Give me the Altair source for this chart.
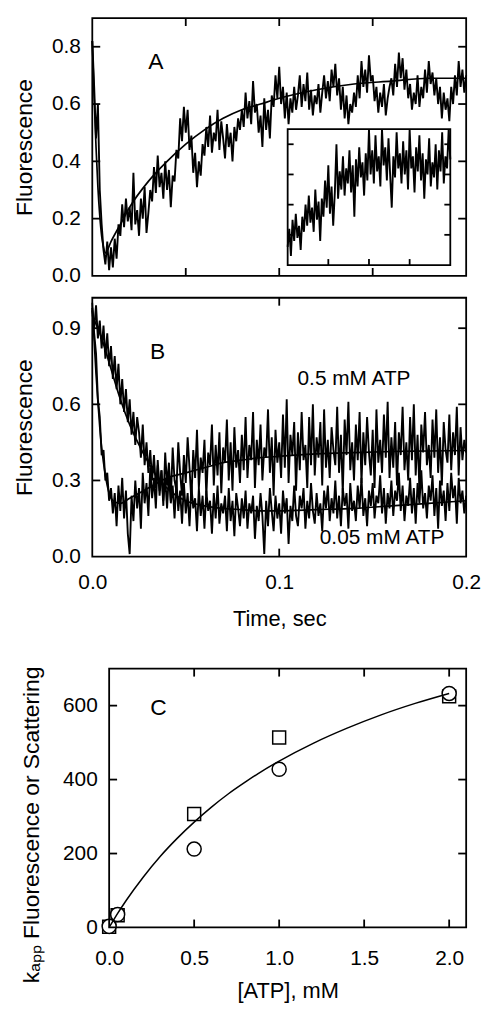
import altair as alt
import pandas as pd

FONT = "Liberation Sans"
BLACK = "#000000"

# ---------------- Panel A : fluorescence transient ----------------
A_STEP = 0.001  # sampling interval (s)
A_TRACE = [
    0.82, 0.66, 0.48, 0.60, 0.30, 0.18, 0.09, 0.04, 0.12, 0.02,
    0.10, 0.03, 0.13, 0.06, 0.18, 0.14, 0.25, 0.17, 0.27, 0.19,
    0.24, 0.16, 0.36, 0.18, 0.23, 0.14, 0.27, 0.20, 0.31, 0.15,
    0.22, 0.30, 0.26, 0.38, 0.29, 0.42, 0.31, 0.36, 0.27, 0.40,
    0.30, 0.37, 0.24, 0.35, 0.33, 0.44, 0.41, 0.55, 0.47, 0.59,
    0.50, 0.58, 0.44, 0.49, 0.36, 0.43, 0.31, 0.40, 0.35, 0.46,
    0.42, 0.52, 0.45, 0.56, 0.43, 0.50, 0.47, 0.58, 0.44, 0.54,
    0.48, 0.41, 0.53, 0.45, 0.50, 0.40, 0.52, 0.47, 0.55, 0.51,
    0.58, 0.52, 0.64, 0.55, 0.61, 0.53, 0.68, 0.57, 0.60, 0.50,
    0.56, 0.45, 0.62, 0.51, 0.58, 0.48, 0.63, 0.59, 0.70, 0.62,
    0.73, 0.60, 0.66, 0.55, 0.64, 0.53, 0.62, 0.57, 0.66, 0.58,
    0.63, 0.70, 0.59, 0.67, 0.61, 0.71, 0.58, 0.65, 0.56, 0.63,
    0.60, 0.67, 0.57, 0.64, 0.70, 0.62, 0.68, 0.61, 0.72, 0.66,
    0.74, 0.63, 0.69, 0.58, 0.66, 0.55, 0.63, 0.53, 0.60, 0.57,
    0.64, 0.59, 0.70, 0.62, 0.75, 0.66, 0.72, 0.64, 0.77, 0.68,
    0.70, 0.61, 0.66, 0.57, 0.64, 0.59, 0.67, 0.56, 0.62, 0.66,
    0.69, 0.63, 0.74, 0.66, 0.78, 0.69, 0.76, 0.65, 0.72, 0.62,
    0.67, 0.58, 0.64, 0.60, 0.70, 0.59, 0.66, 0.62, 0.72, 0.64,
    0.75, 0.67, 0.71, 0.63, 0.69, 0.60, 0.66, 0.55, 0.64, 0.58,
    0.62, 0.54, 0.66, 0.60, 0.70, 0.63, 0.75, 0.66, 0.72, 0.64,
    0.70,
]
A_FIT_T = [0, 0.001, 0.002, 0.003, 0.004, 0.005, 0.006, 0.007, 0.01, 0.015,
           0.02, 0.03, 0.04, 0.05, 0.06, 0.07, 0.08, 0.09, 0.10, 0.12,
           0.14, 0.16, 0.18, 0.20]
A_FIT = [0.82, 0.62, 0.45, 0.31, 0.21, 0.14, 0.10, 0.08, 0.12, 0.18,
         0.24, 0.33, 0.40, 0.46, 0.51, 0.55, 0.58, 0.60, 0.62, 0.65,
         0.67, 0.68, 0.69, 0.69]
A_XDOM, A_YDOM = [0, 0.2], [0, 0.9]
A_XTICKS = [0.05, 0.10, 0.15]
A_YTICKS = [0.2, 0.4, 0.6, 0.8]
A_YLABELS = [0.0, 0.2, 0.4, 0.6, 0.8]

# inset of panel A (unlabelled axes)
INSET_STEP = 0.04
INSET_TRACE = [
    0.6, 1.2, 0.3, 1.5, 0.8, 1.7, 0.9, 1.3, 0.5, 1.6,
    1.1, 2.0, 1.3, 2.3, 1.4, 1.9, 1.1, 2.5, 1.5, 2.1,
    0.8, 2.2, 1.6, 2.8, 1.9, 3.3, 1.7, 2.6, 1.3, 2.4,
    4.0, 2.2, 3.1, 2.5, 3.6, 2.3, 3.2, 2.7, 3.8, 2.4,
    3.3, 1.6, 3.5, 2.6, 3.9, 2.9, 3.4, 2.3, 3.7, 2.8,
    4.5, 3.0, 3.8, 2.7, 4.3, 3.1, 3.6, 2.6, 4.5, 3.3,
    3.9, 2.8, 4.2, 3.0, 1.9, 3.6, 2.9, 4.4, 3.2, 3.7,
    2.7, 4.1, 3.0, 3.8, 2.5, 4.5, 3.2, 3.6, 2.4, 3.9,
    3.1, 4.3, 2.8, 3.7, 2.2, 3.5, 3.0, 4.2, 2.6, 3.4,
    2.9, 4.0, 2.5, 3.8, 3.1, 4.4, 2.7, 3.6, 3.2, 4.5,
    3.5,
]
I_XDOM, I_YDOM = [0, 4], [0, 4.5]
INSET_XTICKS = [1, 2, 3]
INSET_YTICKS = [1, 2, 3, 4]

# ---------------- Panel B : two ATP concentrations ----------------
B_STEP = 0.001
B_TRACE_05 = [
    0.98, 0.88, 0.80, 0.62, 0.55, 0.40, 0.42, 0.30, 0.33, 0.22,
    0.27, 0.17, 0.25, 0.12, 0.28, 0.18, 0.31, 0.15, 0.26, 0.09,
    0.01, 0.24, 0.14, 0.30, 0.19, 0.27, 0.11, 0.33, 0.21, 0.29,
    0.16, 0.35, 0.23, 0.31, 0.19, 0.38, 0.26, 0.34, 0.20, 0.41,
    0.28, 0.37, 0.22, 0.43, 0.30, 0.26, 0.45, 0.33, 0.24, 0.40,
    0.29, 0.47, 0.35, 0.22, 0.42, 0.31, 0.50, 0.27, 0.39, 0.33,
    0.46, 0.24, 0.41, 0.36, 0.52, 0.28, 0.44, 0.32, 0.49, 0.25,
    0.43, 0.37, 0.54, 0.30, 0.45, 0.26, 0.51, 0.35, 0.42, 0.29,
    0.48, 0.34, 0.55, 0.31, 0.44, 0.38, 0.57, 0.27, 0.46, 0.36,
    0.52, 0.30, 0.43, 0.39, 0.58, 0.33, 0.47, 0.24, 0.50, 0.37,
    0.45, 0.31, 0.56, 0.35, 0.62, 0.29, 0.48, 0.40, 0.53, 0.26,
    0.49, 0.34, 0.57, 0.38, 0.44, 0.27, 0.55, 0.36, 0.60, 0.32,
    0.47, 0.39, 0.53, 0.28, 0.58, 0.35, 0.46, 0.31, 0.51, 0.42,
    0.36, 0.59, 0.33, 0.48, 0.25, 0.54, 0.40, 0.61, 0.34, 0.45,
    0.30, 0.52, 0.38, 0.57, 0.29, 0.49, 0.36, 0.55, 0.41, 0.32,
    0.50, 0.27, 0.58, 0.37, 0.46, 0.33, 0.56, 0.39, 0.61, 0.31,
    0.47, 0.35, 0.53, 0.28, 0.49, 0.40, 0.59, 0.34, 0.45, 0.30,
    0.55, 0.38, 0.60, 0.32, 0.48, 0.26, 0.52, 0.41, 0.57, 0.36,
    0.44, 0.31, 0.54, 0.39, 0.58, 0.33, 0.47, 0.28, 0.53, 0.42,
    0.37, 0.56, 0.34, 0.49, 0.40, 0.59, 0.32, 0.51, 0.38, 0.46,
    0.41,
]
B_TRACE_005 = [
    0.97, 0.90, 0.99, 0.86, 0.93, 0.82, 0.91, 0.78, 0.88, 0.75,
    0.83, 0.70, 0.79, 0.66, 0.76, 0.60, 0.70, 0.57, 0.66, 0.53,
    0.62, 0.48, 0.57, 0.44, 0.55, 0.49, 0.39, 0.52, 0.36, 0.45,
    0.33, 0.42, 0.30, 0.40, 0.27, 0.36, 0.24, 0.34, 0.22, 0.31,
    0.19, 0.33, 0.21, 0.28, 0.15, 0.30, 0.18, 0.26, 0.13, 0.29,
    0.17, 0.25, 0.12, 0.28, 0.19, 0.23, 0.10, 0.27, 0.16, 0.24,
    0.11, 0.26, 0.18, 0.22, 0.09, 0.25, 0.15, 0.28, 0.13, 0.21,
    0.17, 0.24, 0.10, 0.27, 0.14, 0.22, 0.08, 0.25, 0.19, 0.12,
    0.23, 0.15, 0.26, 0.11, 0.21, 0.17, 0.24, 0.07, 0.20, 0.14,
    0.25, 0.16, 0.01, 0.22, 0.12, 0.27, 0.18, 0.10, 0.24, 0.15,
    0.21, 0.09, 0.26, 0.17, 0.23, 0.05, 0.20, 0.14, 0.28, 0.16,
    0.12, 0.24, 0.19, 0.27, 0.11, 0.22, 0.15, 0.29, 0.18, 0.13,
    0.25, 0.16, 0.21, 0.10, 0.26, 0.19, 0.28, 0.14, 0.23, 0.17,
    0.30, 0.15, 0.24, 0.12, 0.27, 0.20, 0.25, 0.11, 0.29, 0.18,
    0.22, 0.14, 0.28, 0.19, 0.31, 0.16, 0.23, 0.12, 0.26, 0.20,
    0.29, 0.15, 0.24, 0.21, 0.32, 0.17, 0.27, 0.13, 0.25, 0.19,
    0.30, 0.16, 0.26, 0.22, 0.33, 0.18, 0.28, 0.14, 0.24, 0.20,
    0.31, 0.17, 0.27, 0.13, 0.29, 0.21, 0.34, 0.19, 0.25, 0.15,
    0.28, 0.22, 0.32, 0.16, 0.27, 0.11, 0.30, 0.20, 0.26, 0.14,
    0.29, 0.18, 0.33, 0.23, 0.28, 0.13, 0.31, 0.21, 0.26, 0.17,
    0.24,
]
B_FIT_05_T = [0, 0.001, 0.002, 0.003, 0.004, 0.005, 0.006, 0.007, 0.008, 0.009,
              0.010, 0.012, 0.015, 0.02, 0.03, 0.04, 0.05, 0.06, 0.07, 0.08,
              0.09, 0.10, 0.12, 0.14, 0.16, 0.18, 0.20]
B_FIT_05 = [1.00, 0.85, 0.72, 0.61, 0.51, 0.43, 0.37, 0.32, 0.28, 0.25,
            0.23, 0.215, 0.21, 0.23, 0.27, 0.31, 0.33, 0.35, 0.37, 0.38,
            0.39, 0.395, 0.405, 0.41, 0.414, 0.416, 0.418]
B_FIT_005_T = [0, 0.005, 0.01, 0.015, 0.02, 0.025, 0.03, 0.035, 0.04, 0.045,
               0.05, 0.06, 0.07, 0.08, 0.09, 0.10, 0.12, 0.14, 0.16, 0.18, 0.20]
B_FIT_005 = [0.95, 0.86, 0.74, 0.62, 0.52, 0.44, 0.37, 0.31, 0.27, 0.24,
             0.22, 0.20, 0.19, 0.185, 0.18, 0.18, 0.185, 0.19, 0.20, 0.21, 0.22]
B_XDOM, B_YDOM = [0, 0.2], [0, 1.02]
B_XTICKS = [0.1]
B_YTICKS = [0.3, 0.6, 0.9]
B_XLABELS = [0.0, 0.1, 0.2]
B_YLABELS = [0.0, 0.3, 0.6, 0.9]

# ---------------- Panel C : kapp vs [ATP] ----------------
C_ATP = [0.0, 0.05, 0.5, 1.0, 2.0]
C_FLUOR = [3, 35, 212, 428, 633]       # circles
C_SCATTER = [2, 33, 307, 514, 625]     # squares
C_FIT_X = [0, 0.05, 0.1, 0.2, 0.3, 0.4, 0.5, 0.6, 0.7, 0.8, 0.9, 1.0,
           1.2, 1.4, 1.6, 1.8, 2.0]
C_FIT = [0, 38, 73, 136, 192, 241, 285, 325, 361, 393, 423, 450,
         498, 539, 575, 606, 633]
C_XDOM, C_YDOM = [0, 2.1], [0, 700]
C_XTICKS = [0.5, 1.0, 1.5, 2.0]
C_YTICKS = [200, 400, 600]
C_XLABELS = [0.0, 0.5, 1.0, 1.5, 2.0]
C_YLABELS = [0, 200, 400, 600]

# ---------------- layout (pixels inside the single view) ----------------
VIEW_W = 377
A_BOX = (0, 377, 0, 260)        # left, right, top, bottom
INSET_BOX = (197, 361, 112, 249)
B_BOX = (0, 377, 282, 543)
C_BOX = (17, 377, 656, 917)
VIEW_H = C_BOX[3]
TICK = 8
LABEL_SIZE = 21
TITLE_SIZE = 23
XTITLE_SIZE = 22
LETTER_SIZE = 23
TRACE_W = 1.9
FIT_W = 1.7
FRAME_W = 1.8


def scales(box, xdom, ydom):
    l, r, t, b = box
    return (alt.Scale(domain=xdom, range=[l, r], nice=False, zero=False),
            alt.Scale(domain=ydom, range=[b, t], nice=False, zero=False))


def axis(values, fmt, title, label_pad, title_pad, orient,
         title_size=TITLE_SIZE, **extra):
    return alt.Axis(values=values, format=fmt, title=title, orient=orient,
                    ticks=False, domain=False, grid=False,
                    labelPadding=label_pad, titlePadding=title_pad,
                    labelFontSize=LABEL_SIZE, titleFontSize=title_size,
                    labelFlush=False, labelOverlap=False, labelFont=FONT,
                    titleFont=FONT, labelColor=BLACK, titleColor=BLACK,
                    titleFontWeight="normal", **extra)


def frame(box, xdom, ydom, xs, ys, xa, ya, xticks, yticks, fill=None,
          tick=TICK):
    """Panel border plus inward ticks on all four sides."""
    l, r, t, b = box
    tx = tick * (xdom[1] - xdom[0]) / (r - l)
    ty = tick * (ydom[1] - ydom[0]) / (b - t)
    X = lambda f: alt.X(f, scale=xs, axis=xa)
    Y = lambda f: alt.Y(f, scale=ys, axis=ya)
    rect_df = pd.DataFrame({"x0": [xdom[0]], "x1": [xdom[1]],
                            "y0": [ydom[0]], "y1": [ydom[1]]})
    if fill:
        rect = alt.Chart(rect_df).mark_rect(fill=fill, stroke=BLACK,
                                            strokeWidth=FRAME_W)
    else:
        rect = alt.Chart(rect_df).mark_rect(fillOpacity=0, stroke=BLACK,
                                            strokeWidth=FRAME_W)
    rect = rect.encode(x=X("x0:Q"), x2="x1:Q", y=Y("y0:Q"), y2="y1:Q")
    layers = [rect]
    for a, bb in ((ydom[0], ydom[0] + ty), (ydom[1] - ty, ydom[1])):
        df = pd.DataFrame({"v": xticks, "a": a, "b": bb})
        layers.append(alt.Chart(df).mark_rule(color=BLACK, strokeWidth=FRAME_W)
                      .encode(x=X("v:Q"), y=Y("a:Q"), y2="b:Q"))
    for a, bb in ((xdom[0], xdom[0] + tx), (xdom[1] - tx, xdom[1])):
        df = pd.DataFrame({"v": yticks, "a": a, "b": bb})
        layers.append(alt.Chart(df).mark_rule(color=BLACK, strokeWidth=FRAME_W)
                      .encode(y=Y("v:Q"), x=X("a:Q"), x2="b:Q"))
    return layers


def label(text, x, y, xs, ys, xa, ya, size=LETTER_SIZE):
    df = pd.DataFrame({"x": [x], "y": [y], "t": [text]})
    return alt.Chart(df).mark_text(font=FONT, fontSize=size, color=BLACK,
                                   align="center", baseline="middle").encode(
        x=alt.X("x:Q", scale=xs, axis=xa),
        y=alt.Y("y:Q", scale=ys, axis=ya),
        text="t:N")


def line(df, xs, ys, xa, ya, width, smooth=False, detail=None):
    m = alt.Chart(df).mark_line(color=BLACK, strokeWidth=width,
                                strokeJoin="miter", strokeMiterLimit=2,
                                interpolate="monotone" if smooth else "linear")
    enc = dict(x=alt.X("x:Q", scale=xs, axis=xa),
               y=alt.Y("y:Q", scale=ys, axis=ya))
    if detail:
        enc["detail"] = detail
    return m.encode(**enc)


# ---------- Panel A ----------
AX, AY = scales(A_BOX, A_XDOM, A_YDOM)
AXA = None
AYA = axis(A_YLABELS, ".1f", "Fluorescence", 12, 15, "left")
a_df = pd.DataFrame({"x": [round(i * A_STEP, 4) for i in range(len(A_TRACE))],
                     "y": A_TRACE})
a_fit = pd.DataFrame({"x": A_FIT_T, "y": A_FIT})
panel_a = alt.layer(
    line(a_df, AX, AY, AXA, AYA, TRACE_W),
    line(a_fit, AX, AY, AXA, AYA, FIT_W, smooth=True),
    *frame(A_BOX, A_XDOM, A_YDOM, AX, AY, AXA, AYA, A_XTICKS, A_YTICKS),
    label("A", 0.034, 0.746, AX, AY, AXA, AYA),
)

# ---------- inset ----------
IX, IY = scales(INSET_BOX, I_XDOM, I_YDOM)
ins_df = pd.DataFrame({"x": [round(i * INSET_STEP, 3) for i in range(len(INSET_TRACE))],
                       "y": INSET_TRACE})
inset_frame = frame(INSET_BOX, I_XDOM, I_YDOM, IX, IY, None, None,
                    INSET_XTICKS, INSET_YTICKS, fill="white", tick=6)
# the inset has ticks on its left, right and bottom sides only
panel_inset = alt.layer(
    inset_frame[0],
    line(ins_df, IX, IY, None, None, TRACE_W),
    inset_frame[1], inset_frame[3], inset_frame[4],
)

# ---------- Panel B ----------
BX, BY = scales(B_BOX, B_XDOM, B_YDOM)
BXA = axis(B_XLABELS, ".1f", "Time, sec", 15, 16, "bottom",
           title_size=XTITLE_SIZE, offset=B_BOX[3] - VIEW_H)
BYA = axis(B_YLABELS, ".1f", "Fluorescence", 12, 15, "left")
b_df = pd.DataFrame({
    "x": [round(i * B_STEP, 4) for i in range(len(B_TRACE_05))] * 2,
    "y": B_TRACE_05 + B_TRACE_005,
    "s": ["0.5 mM ATP"] * len(B_TRACE_05) + ["0.05 mM ATP"] * len(B_TRACE_005),
})
b_fit = pd.DataFrame({
    "x": B_FIT_05_T + B_FIT_005_T,
    "y": B_FIT_05 + B_FIT_005,
    "s": ["0.5 mM ATP"] * len(B_FIT_05) + ["0.05 mM ATP"] * len(B_FIT_005),
})
panel_b = alt.layer(
    line(b_df, BX, BY, BXA, BYA, TRACE_W, detail="s:N"),
    line(b_fit, BX, BY, BXA, BYA, FIT_W, smooth=True, detail="s:N"),
    *frame(B_BOX, B_XDOM, B_YDOM, BX, BY, BXA, BYA, B_XTICKS, B_YTICKS),
    label("B", 0.035, 0.805, BX, BY, BXA, BYA),
    label("0.5 mM ATP", 0.140, 0.70, BX, BY, BXA, BYA, size=21),
    label("0.05 mM ATP", 0.155, 0.074, BX, BY, BXA, BYA, size=21),
)

# ---------- Panel C ----------
CX, CY = scales(C_BOX, C_XDOM, C_YDOM)
CXA = axis(C_XLABELS, ".1f", "[ATP], mM", 20, 13, "bottom",
           title_size=XTITLE_SIZE)
CYA = axis(C_YLABELS, "d", "kₐₚₚ Fluorescence or Scattering", 12, 19, "left",
           offset=-C_BOX[0], titleY=813)
c_sq = pd.DataFrame({"x": C_ATP, "y": C_SCATTER})
c_ci = pd.DataFrame({"x": C_ATP, "y": C_FLUOR})
c_fit = pd.DataFrame({"x": C_FIT_X, "y": C_FIT})
c_squares = alt.Chart(c_sq).mark_point(shape="square", size=170, filled=True,
                                       fill="white", stroke=BLACK,
                                       strokeWidth=1.5, opacity=1).encode(
    x=alt.X("x:Q", scale=CX, axis=CXA), y=alt.Y("y:Q", scale=CY, axis=CYA))
c_circles = alt.Chart(c_ci).mark_point(shape="circle", size=200, filled=True,
                                       fill="white", stroke=BLACK,
                                       strokeWidth=1.5, opacity=1).encode(
    x=alt.X("x:Q", scale=CX, axis=CXA), y=alt.Y("y:Q", scale=CY, axis=CYA))
panel_c = alt.layer(
    c_squares, c_circles,
    line(c_fit, CX, CY, CXA, CYA, 1.5, smooth=True),
    *frame(C_BOX, C_XDOM, C_YDOM, CX, CY, CXA, CYA, C_XTICKS, C_YTICKS),
    label("C", 0.29, 594, CX, CY, CXA, CYA),
)

chart = alt.layer(panel_a, panel_inset, panel_b, panel_c).resolve_scale(
    x="independent", y="independent"
).properties(
    width=VIEW_W, height=VIEW_H,
    padding={"left": 5, "top": 5, "right": 5, "bottom": 0},
).configure(
    font=FONT, background="white"
).configure_view(stroke="transparent")

chart.save("out.html", embed_options={"renderer": "svg", "actions": False})
